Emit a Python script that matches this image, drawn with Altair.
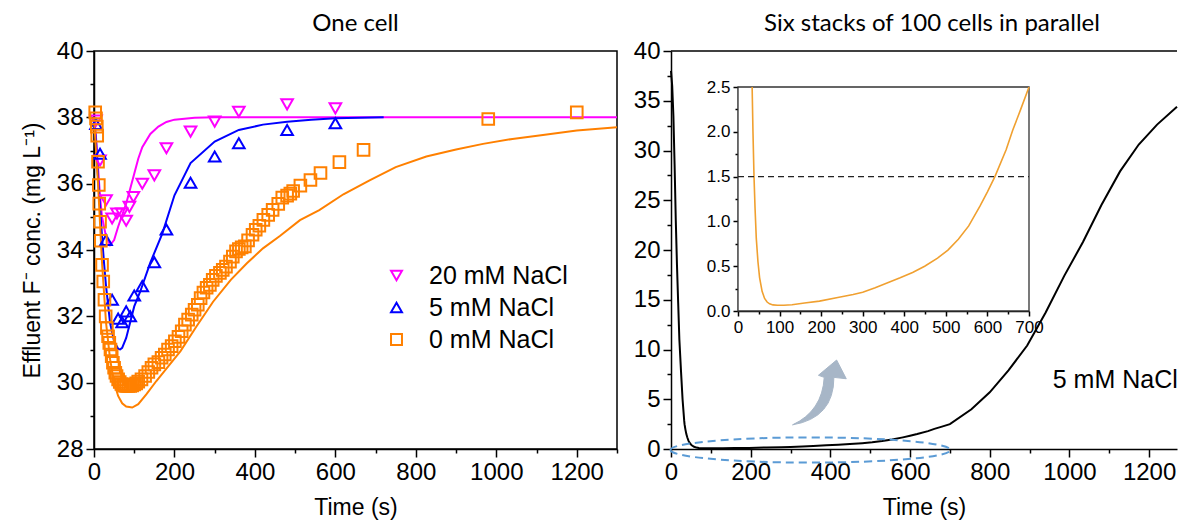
import altair as alt
import pandas as pd

FONT = "Liberation Sans, Arial, Helvetica, sans-serif"
TFONT = "Lato"
SERIES = ["20 mM NaCl", "5 mM NaCl", "0 mM NaCl"]
COLORS = ["#ff00ff", "#0000ff", "#ff8000"]
SHAPES = ["triangle-down", "triangle-up", "square"]
SIZES = [135, 135, 60]

# ---------------- Left panel: measured points ----------------
t20_exp = [5, 15, 30, 45, 57, 69, 80, 88, 98, 120, 150, 180, 240, 300, 360, 480, 600]
c20_exp = [37.9, 36.7, 35.5, 34.95, 35.1, 35.1, 34.88, 35.3, 35.6, 36.0, 36.25, 37.07, 37.57, 37.87, 38.17, 38.39, 38.27]

t5_exp = [5, 15, 30, 45, 60, 70, 80, 90, 100, 120, 150, 180, 240, 300, 360, 480, 600]
c5_exp = [37.8, 36.9, 34.3, 32.5, 31.93, 31.82, 32.15, 32.0, 32.63, 32.91, 33.63, 34.62, 36.03, 36.82, 37.22, 37.62, 37.82]

t0_exp = [3, 5, 7, 8, 10, 12, 13, 15, 17, 20, 23, 26, 29, 32, 35, 38, 41, 44, 47, 50, 53, 56, 60, 64,
          68, 72, 76, 80, 85, 90, 95, 100, 105, 110, 118, 127, 135, 143, 150, 160, 168, 176, 184, 193,
          201, 210, 218, 226, 234, 243, 250, 258, 265, 272, 280, 288, 295, 303, 313, 320, 328, 338, 345,
          353, 360, 367, 375, 383, 394, 402, 411, 421, 433, 444, 458, 468, 480, 488, 495, 513, 538, 563,
          610, 670, 980, 1200]
c0_exp = [38.15, 37.97, 37.72, 37.45, 36.66, 35.96, 35.4, 34.85, 34.28, 33.55, 33.05, 32.5, 32.0, 31.65,
          31.4, 31.2, 31.0, 30.8, 30.6, 30.45, 30.3, 30.2, 30.1, 30.02, 29.96, 29.93, 29.91, 29.9, 29.9,
          29.9, 29.92, 29.95, 29.98, 30.03, 30.1, 30.2, 30.32, 30.45, 30.55, 30.62, 30.75, 30.85, 31.0,
          31.1, 31.25, 31.38, 31.55, 31.75, 31.9, 32.05, 32.2, 32.35, 32.55, 32.72, 32.86, 32.95, 33.1,
          33.22, 33.31, 33.4, 33.5, 33.65, 33.8, 33.96, 34.03, 34.08, 34.11, 34.29, 34.46, 34.61, 34.73,
          34.91, 35.06, 35.21, 35.39, 35.58, 35.64, 35.7, 35.78, 35.94, 36.11, 36.32, 36.65, 37.02,
          37.95, 38.15]

# ---------------- Left panel: model curves ----------------
t20_mod = [0, 5, 10, 15, 20, 30, 40, 50, 60, 70, 80, 90, 100, 110, 120, 140, 160, 180, 200, 250, 300, 1300]
c20_mod = [38.0, 37.4, 36.5, 35.6, 35.0, 34.4, 34.15, 34.3, 34.7, 35.05, 35.4, 35.85, 36.3, 36.75, 37.1,
           37.5, 37.72, 37.86, 37.93, 37.99, 38.0, 38.0]

t5_mod = [0, 5, 10, 15, 20, 25, 30, 40, 50, 60, 65, 70, 80, 90, 100, 115, 140, 170, 200, 240, 300, 360,
          420, 480, 540, 600, 720]
c5_mod = [38.0, 37.3, 36.2, 35.3, 34.4, 33.6, 32.9, 31.8, 31.25, 31.02, 31.0, 31.05, 31.35, 31.82, 32.3,
          32.75, 33.62, 34.5, 35.65, 36.62, 37.27, 37.62, 37.78, 37.87, 37.93, 37.97, 38.0]

t0_mod = [0, 10, 20, 30, 40, 50, 60, 70, 80, 95, 110, 130, 155, 185, 215, 255, 296, 340, 380, 420, 462,
          512, 560, 620, 685, 750, 826, 900, 967, 1040, 1116, 1200, 1300]
c0_mod = [38.0, 36.0, 33.6, 31.8, 30.7, 30.0, 29.6, 29.38, 29.28, 29.25, 29.35, 29.65, 30.05, 30.5, 30.95,
          31.7, 32.44, 33.1, 33.6, 34.05, 34.42, 34.9, 35.2, 35.68, 36.1, 36.5, 36.82, 37.03, 37.2, 37.35,
          37.47, 37.6, 37.7]

# ---------------- Right panel: stack curve (5 mM NaCl) ----------------
stack_t = [0, 3, 6, 9, 12, 15, 18, 21, 25, 29, 33, 34, 36, 38.5, 41, 44, 48, 52, 58, 64, 70, 76, 84, 95,
           110, 130, 160, 196, 240, 277, 300, 330, 357, 390, 420, 449, 480, 505, 530, 555, 582, 600, 618,
           645, 661, 680, 700, 754, 800, 847, 894, 940, 987, 1034, 1080, 1127, 1174, 1220, 1270]
stack_c = [38.0, 36.5, 33.5, 28.6, 23.0, 18.5, 14.7, 11.0, 7.9, 5.0, 2.9, 2.5, 2.0, 1.5, 1.15, 0.81, 0.55,
           0.37, 0.22, 0.14, 0.10, 0.08, 0.068, 0.064, 0.065, 0.07, 0.09, 0.11, 0.15, 0.185, 0.21, 0.26, 0.31,
           0.37, 0.43, 0.5, 0.59, 0.68, 0.8, 0.95, 1.17, 1.33, 1.5, 1.8, 2.02, 2.25, 2.5, 4.0, 5.7, 7.9,
           10.4, 13.7, 17.4, 20.8, 24.5, 27.9, 30.6, 32.6, 34.4]

LIMIT = 1.5  # dashed threshold in inset

exp_df = pd.concat([
    pd.DataFrame({"t": t20_exp, "c": c20_exp, "series": SERIES[0]}),
    pd.DataFrame({"t": t5_exp, "c": c5_exp, "series": SERIES[1]}),
    pd.DataFrame({"t": t0_exp, "c": c0_exp, "series": SERIES[2]}),
], ignore_index=True)
mod_dfs = [
    pd.DataFrame({"t": t20_mod, "c": c20_mod}),
    pd.DataFrame({"t": t5_mod, "c": c5_mod}),
    pd.DataFrame({"t": t0_mod, "c": c0_mod}),
]
stack_df = pd.DataFrame({"t": stack_t, "c": stack_c})


def cond(test, big, small):
    return {"condition": {"test": test, "value": big}, "value": small}


def frange(a, b, s):
    out, v = [], a
    while v <= b + 1e-9:
        out.append(round(v, 4))
        v += s
    return out


# ---------------- Left panel ----------------
LX = dict(scale=alt.Scale(domain=[0, 1300], nice=False),
          axis=alt.Axis(title="Time (s)", values=frange(0, 1300, 100), format="d", labelOverlap=False,
                        labelFlush=False, labelExpr="datum.value % 200 === 0 ? datum.label : ''",
                        tickSize=cond("datum.value % 200 === 0", 8, 4)))
LY = dict(scale=alt.Scale(domain=[28, 40], nice=False, zero=False),
          axis=alt.Axis(title="Effluent F\u207b conc. (mg L\u207b\u00b9)", values=frange(28, 40, 1),
                        format="d", labelOverlap=False, labelFlush=False,
                        labelExpr="datum.value % 2 === 0 ? datum.label : ''",
                        tickSize=cond("datum.value % 2 === 0", 8, 4)))

mod_layers = []
for df, col in zip(mod_dfs, COLORS):
    mod_layers.append(
        alt.Chart(df).mark_line(color=col, strokeWidth=2).encode(
            x=alt.X("t:Q", **LX), y=alt.Y("c:Q", **LY), order="t:Q"))

leg = alt.Legend(title=None, orient="none", legendX=290, legendY=212, labelFontSize=25, labelFont=FONT,
                 labelColor="black", symbolSize=120, symbolStrokeWidth=2, rowPadding=6, labelOffset=20,
                 symbolFillColor="transparent")
pts = alt.Chart(exp_df).mark_point(filled=False, strokeWidth=2, opacity=1).encode(
    x=alt.X("t:Q", **LX), y=alt.Y("c:Q", **LY),
    color=alt.Color("series:N", scale=alt.Scale(domain=SERIES, range=COLORS), legend=leg),
    shape=alt.Shape("series:N", scale=alt.Scale(domain=SERIES, range=SHAPES), legend=leg),
    size=alt.Size("series:N", scale=alt.Scale(domain=SERIES, range=SIZES), legend=None),
)

left = alt.layer(*mod_layers, pts).properties(
    width=523, height=398,
    title=alt.TitleParams("One cell", font=TFONT, fontSize=24, fontWeight="normal", color="black", offset=3))

# ---------------- Right panel ----------------
RX = dict(scale=alt.Scale(domain=[0, 1270], nice=False),
          axis=alt.Axis(title="Time (s)", values=frange(0, 1200, 100), format="d", labelOverlap=False,
                        labelFlush=False, labelExpr="datum.value % 200 === 0 ? datum.label : ''",
                        tickSize=cond("datum.value % 200 === 0", 8, 4)))
RY = dict(scale=alt.Scale(domain=[0, 40], nice=False),
          axis=alt.Axis(title=None, values=frange(0, 40, 2.5), format="d", labelOverlap=False,
                        labelFlush=False, labelExpr="datum.value % 5 === 0 ? datum.label : ''",
                        tickSize=cond("datum.value % 5 === 0", 8, 4)))

black = alt.Chart(stack_df).mark_line(color="black", strokeWidth=2).encode(
    x=alt.X("t:Q", **RX), y=alt.Y("c:Q", **RY), order="t:Q")

top_border = alt.Chart().mark_rule(color="black", strokeWidth=1.5).encode(
    x=alt.X(datum=0, **RX), x2=alt.X2(datum=1270), y=alt.Y(datum=40, **RY))

ELLIPSE = "M -1 0 A 1 0.09 0 1 1 1 0 A 1 0.09 0 1 1 -1 0 Z"
ellipse = alt.Chart().mark_point(shape=ELLIPSE, size=78400, filled=False, stroke="#5b9bd5",
                                 strokeWidth=2, strokeDash=[8, 5], opacity=1).encode(
    x=alt.X(datum=350, **RX), y=alt.Y(datum=-0.1, **RY))

ARROW = ("M -0.787 0.961 Q 0.433 0.757 0.433 -0.44 L 0.798 -0.399 L 0.513 -0.951 "
         "L -0.023 -0.501 L 0.148 -0.44 Q 0.091 0.552 -0.787 0.961 Z")
arrow = alt.Chart().mark_point(shape=ARROW, size=4600, filled=True, fill="#a7b6c7", stroke="#a7b6c7",
                               strokeWidth=1, opacity=1).encode(
    x=alt.X(datum=372, **RX), y=alt.Y(datum=5.7, **RY))

label = alt.Chart().mark_text(text="5 mM NaCl", font=FONT, fontSize=25, color="black",
                              align="center", baseline="middle").encode(
    x=alt.X(datum=1115, **RX), y=alt.Y(datum=6.9, **RY))

right_main = alt.layer(black, top_border, ellipse, arrow, label)

IX = dict(scale=alt.Scale(domain=[0, 700], range=[67, 358], nice=False),
          axis=alt.Axis(title=None, orient="bottom", offset=-138, values=frange(0, 700, 50), format="d",
                        labelOverlap=False, labelFlush=False, labelFontSize=17,
                        labelExpr="datum.value % 100 === 0 ? datum.label : ''",
                        tickSize=cond("datum.value % 100 === 0", 5, 3)))
IY = dict(scale=alt.Scale(domain=[0, 2.5], range=[260, 36], nice=False, zero=False),
          axis=alt.Axis(title=None, orient="left", offset=-67, values=frange(0, 2.5, 0.25), format=".1f",
                        labelOverlap=False, labelFlush=False, labelFontSize=17,
                        labelExpr="datum.value % 0.5 === 0 ? datum.label : ''",
                        tickSize=cond("datum.value % 0.5 === 0", 5, 3)))

inset_bg = alt.Chart().mark_rect(fill="white", stroke="#333333", strokeWidth=1.3).encode(
    x=alt.X(datum=0, **IX), x2=alt.X2(datum=700), y=alt.Y(datum=0, **IY), y2=alt.Y2(datum=2.5))
inset_line = alt.Chart(stack_df).transform_filter(
    "datum.t <= 700 && datum.c <= 2.5").mark_line(color="#f0a030", strokeWidth=1.6).encode(
    x=alt.X("t:Q", **IX), y=alt.Y("c:Q", **IY), order="t:Q")
inset_dash = alt.Chart().mark_rule(color="#222222", strokeWidth=1.4, strokeDash=[6, 4]).encode(
    x=alt.X(datum=0, **IX), x2=alt.X2(datum=700), y=alt.Y(datum=LIMIT, **IY))
inset = alt.layer(inset_bg, inset_line, inset_dash)

right = alt.layer(right_main, inset).resolve_scale(x="independent", y="independent").properties(
    width=506, height=398, view=alt.ViewBackground(stroke="transparent"),
    title=alt.TitleParams("Six stacks of 100 cells in parallel", font=TFONT, fontSize=24,
                          fontWeight="normal", color="black", offset=3, dx=8))

chart = alt.hconcat(left, right, spacing=10).resolve_legend(
    color="independent", shape="independent").properties(
    padding={"left": 12, "top": 3, "right": 0, "bottom": 0}
).configure_view(stroke="black", strokeWidth=1.5).configure_axis(
    grid=False, domainColor="black", domainWidth=1.5, tickColor="black", tickWidth=1.5,
    labelColor="black", labelFont=FONT, labelFontSize=24, labelPadding=3,
    titleFont=FONT, titleFontSize=23, titleFontWeight="normal", titleColor="black", titlePadding=12,
)

chart.save("out.html", embed_options={"renderer": "svg", "actions": False})
